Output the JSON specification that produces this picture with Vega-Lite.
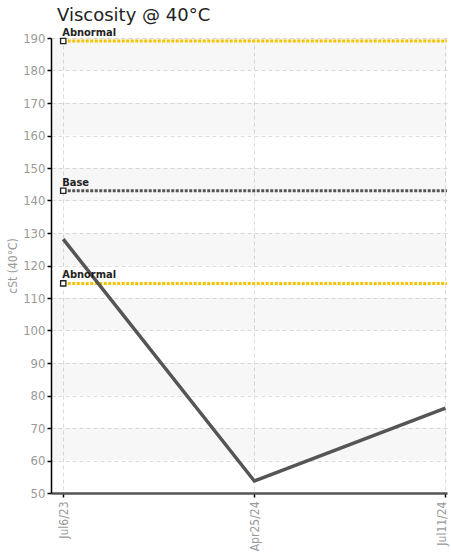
{
  "$schema": "https://vega.github.io/schema/vega-lite/v6.json",
  "width": 396,
  "height": 455,
  "autosize": {"type": "none"},
  "padding": {"left": 51, "top": 38, "right": 4, "bottom": 61},
  "background": "white",
  "title": {
    "text": "Viscosity @ 40°C",
    "anchor": "start",
    "frame": "group",
    "font": "DejaVu Sans",
    "fontSize": 18,
    "fontWeight": "normal",
    "color": "#222",
    "baseline": "alphabetic",
    "offset": 9,
    "dx": 6,
    "dy": 21
  },
  "config": {
    "view": {"stroke": null},
    "axis": {
      "labelFont": "DejaVu Sans Condensed, Liberation Sans Narrow, Roboto, sans-serif",
      "titleFont": "DejaVu Sans Condensed, Liberation Sans Narrow, Roboto, sans-serif",
      "gridColor": "#dddddd",
      "gridDash": [4, 3],
      "gridWidth": 1,
      "labelOverlap": false
    }
  },
  "datasets": {
    "bands": [
      {"lo": 60, "hi": 70}, {"lo": 80, "hi": 90}, {"lo": 100, "hi": 110},
      {"lo": 120, "hi": 130}, {"lo": 140, "hi": 150}, {"lo": 160, "hi": 170},
      {"lo": 180, "hi": 190}
    ],
    "limits": [
      {"label": "Abnormal", "kind": "abnormal", "value": 189.1, "start": 0},
      {"label": "Base", "kind": "base", "value": 143.0, "start": 0},
      {"label": "Abnormal", "kind": "abnormal", "value": 114.5, "start": 0}
    ],
    "samples": [
      {"idx": 0, "date": "Jul6/23", "cst": 128.1},
      {"idx": 1, "date": "Apr25/24", "cst": 53.7},
      {"idx": 2, "date": "Jul11/24", "cst": 76.1}
    ]
  },
  "layer": [
    {
      "data": {"name": "bands"},
      "mark": {"type": "rect", "fill": "#000", "opacity": 0.03},
      "encoding": {
        "y": {
          "field": "lo", "type": "quantitative",
          "scale": {"domain": [50, 190], "nice": false, "zero": false},
          "axis": {
            "values": [50, 60, 70, 80, 90, 100, 110, 120, 130, 140, 150, 160, 170, 180, 190],
            "labelOverlap": false,
            "title": "cSt (40°C)",
            "titleColor": "#9a9a9a",
            "titleFontSize": 12,
            "titleFontWeight": "normal",
            "titlePadding": 3,
            "labelColor": "#9a9a9a",
            "labelFontSize": 13,
            "labelPadding": 2,
            "tickSize": 4,
            "tickColor": "#000",
            "tickWidth": 1.5,
            "domainColor": "#000",
            "domainWidth": 1.5,
            "grid": true
          }
        },
        "y2": {"field": "hi"}
      }
    },
    {
      "data": {"name": "limits"},
      "mark": {"type": "rule", "strokeWidth": 3},
      "encoding": {
        "x": {
          "field": "start", "type": "quantitative",
          "scale": {"domain": [-0.064, 2.008], "nice": false, "zero": false},
          "axis": {
            "values": [0, 1, 2],
            "labelOverlap": false,
            "title": null,
            "labelExpr": "['Jul6/23','Apr25/24','Jul11/24'][datum.value]",
            "labelAngle": -90,
            "labelAlign": "right",
            "labelBaseline": {"expr": "datum.value == 2 ? 'alphabetic' : 'middle'"},
            "labelColor": "#9a9a9a",
            "labelFontSize": 12,
            "labelPadding": 4,
            "tickSize": 4,
            "tickColor": "#000",
            "tickWidth": 1.5,
            "domainColor": "#555",
            "domainWidth": 2.5,
            "grid": true
          }
        },
        "x2": {"datum": 2.008},
        "y": {
          "field": "value", "type": "quantitative",
          "axis": {
            "values": [50, 60, 70, 80, 90, 100, 110, 120, 130, 140, 150, 160, 170, 180, 190],
            "labelOverlap": false
          }
        },
        "color": {
          "field": "kind", "type": "nominal",
          "scale": {"domain": ["abnormal", "base"], "range": ["#f5c400", "#555555"]},
          "legend": null
        },
        "strokeDash": {
          "field": "kind", "type": "nominal",
          "scale": {"domain": ["abnormal", "base"], "range": [[3, 1.5], [3, 1.5]]},
          "legend": null
        }
      }
    },
    {
      "data": {"name": "samples"},
      "mark": {"type": "line", "color": "#555555", "strokeWidth": 3.5},
      "encoding": {
        "x": {"field": "idx", "type": "quantitative", "axis": {"values": [0, 1, 2]}},
        "y": {
          "field": "cst", "type": "quantitative",
          "axis": {
            "values": [50, 60, 70, 80, 90, 100, 110, 120, 130, 140, 150, 160, 170, 180, 190],
            "labelOverlap": false
          }
        }
      }
    },
    {
      "data": {"name": "limits"},
      "mark": {"type": "square", "size": 28, "filled": true, "fill": "white", "stroke": "#222", "strokeWidth": 1.3, "opacity": 1},
      "encoding": {
        "x": {"field": "start", "type": "quantitative", "axis": {"values": [0, 1, 2]}},
        "y": {
          "field": "value", "type": "quantitative",
          "axis": {
            "values": [50, 60, 70, 80, 90, 100, 110, 120, 130, 140, 150, 160, 170, 180, 190],
            "labelOverlap": false
          }
        }
      }
    },
    {
      "data": {"name": "limits"},
      "mark": {
        "type": "text", "align": "left", "baseline": "alphabetic", "dx": -1, "dy": -5,
        "font": "DejaVu Sans Condensed, Liberation Sans Narrow, Roboto, sans-serif",
        "fontSize": 11, "fontWeight": "bold", "color": "#222"
      },
      "encoding": {
        "x": {"field": "start", "type": "quantitative", "axis": {"values": [0, 1, 2]}},
        "y": {
          "field": "value", "type": "quantitative",
          "axis": {
            "values": [50, 60, 70, 80, 90, 100, 110, 120, 130, 140, 150, 160, 170, 180, 190],
            "labelOverlap": false
          }
        },
        "text": {"field": "label"}
      }
    }
  ]
}
